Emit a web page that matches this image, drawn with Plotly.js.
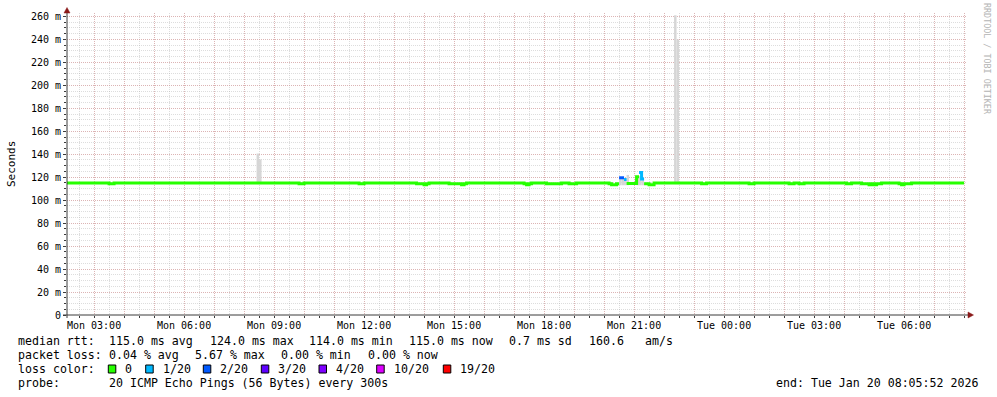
<!DOCTYPE html>
<html><head><meta charset="utf-8">
<script src="https://cdn.plot.ly/plotly-3.0.1.min.js"></script>
<style>html,body{margin:0;padding:0;background:#fff}#chart{width:997px;height:397px}</style>
</head><body><div id="chart"></div>
<script>
// ---- data ----
const rangeStart = '2026-01-19 02:05:52';
const rangeEnd   = '2026-01-20 08:05:52';
const medianEnd  = '2026-01-20 08:00';

// median rtt as runs: start time, value (ms), lost pings out of 20
const medianStart = [
 '2026-01-19 02:05:52','2026-01-19 03:30','2026-01-19 03:40','2026-01-19 09:50','2026-01-19 10:00',
 '2026-01-19 11:50','2026-01-19 12:00','2026-01-19 13:45','2026-01-19 14:00','2026-01-19 14:05',
 '2026-01-19 14:10','2026-01-19 14:50','2026-01-19 15:15','2026-01-19 15:20','2026-01-19 15:25',
 '2026-01-19 17:20','2026-01-19 17:25','2026-01-19 17:30','2026-01-19 17:35','2026-01-19 18:05',
 '2026-01-19 18:35','2026-01-19 18:50','2026-01-19 19:05','2026-01-19 20:10','2026-01-19 20:15',
 '2026-01-19 20:25','2026-01-19 20:30','2026-01-19 20:40','2026-01-19 20:45','2026-01-19 21:05',
 '2026-01-19 21:10','2026-01-19 21:15','2026-01-19 21:20','2026-01-19 21:30','2026-01-19 21:40',
 '2026-01-19 23:15','2026-01-19 23:25','2026-01-20 00:50','2026-01-20 01:00','2026-01-20 02:10',
 '2026-01-20 02:20','2026-01-20 02:30','2026-01-20 02:40','2026-01-20 04:05','2026-01-20 04:15',
 '2026-01-20 04:35','2026-01-20 04:50','2026-01-20 04:55','2026-01-20 05:00','2026-01-20 05:05',
 '2026-01-20 05:15','2026-01-20 05:50','2026-01-20 05:55','2026-01-20 06:00','2026-01-20 06:15'
];
const medianVal = [
 115,114.2,115,114.2,115,
 114.2,115,114.2,113.5,114.2,
 115,114.2,113.5,114.2,115,
 114.2,113.5,114.2,115,114.2,
 115,114.2,115,114.2,113.5,
 114.2,119.5,118,114.5,120.5,
 124,118.5,114.2,113.5,115,
 114.2,115,114.2,115,114.2,
 115,114.2,115,114.2,115,
 114.2,113.5,114.2,113.5,114.2,
 115,114.2,113.5,114.2,115
];
const medianLoss = [
 0,0,0,0,0, 0,0,0,0,0, 0,0,0,0,0, 0,0,0,0,0, 0,0,0,0,0,
 0,2,1,0,0, 1,1,0,0,0, 0,0,0,0,0, 0,0,0,0,0, 0,0,0,0,0, 0,0,0,0,0
];

// smoke (spread of the 20 pings) per 5-minute step: step end, low, high (ms)
const smokeEnd  = ['2026-01-19 08:30','2026-01-19 08:35','2026-01-19 20:35','2026-01-19 20:40',
                   '2026-01-19 20:45','2026-01-19 20:50','2026-01-19 21:10','2026-01-19 21:15',
                   '2026-01-19 21:20','2026-01-19 22:25','2026-01-19 22:30'];
const smokeLow  = [114,114,113,113,113,113,113,113,113,114,114];
const smokeHigh = [140.6,135.5,119,119,118.5,122,120,121,120,261,240];

// loss colour legend
const lossSteps  = [0,1,2,3,4,10,19];
const lossLabels = ['0','1/20','2/20','3/20','4/20','10/20','19/20'];
const lossColors = ['#26ff00','#00b8ff','#0059ff','#5e00ff','#7e00ff','#dd00ff','#ff0000'];

// axis ticks
const yTickVals   = [0,20,40,60,80,100,120,140,160,180,200,220,240,260];
const yTickLabels = ['0','20 m','40 m','60 m','80 m','100 m','120 m','140 m','160 m','180 m','200 m','220 m','240 m','260 m'];
const xTickTimes  = ['2026-01-19 03:00','2026-01-19 06:00','2026-01-19 09:00','2026-01-19 12:00','2026-01-19 15:00',
                     '2026-01-19 18:00','2026-01-19 21:00','2026-01-20 00:00','2026-01-20 03:00','2026-01-20 06:00'];
const xTickLabels = ['Mon 03:00','Mon 06:00','Mon 09:00','Mon 12:00','Mon 15:00',
                     'Mon 18:00','Mon 21:00','Tue 00:00','Tue 03:00','Tue 06:00'];

const statsRtt  = ['115.0 ms avg','124.0 ms max','114.0 ms min','115.0 ms now','0.7 ms sd','160.6','am/s'];
const statsLoss = ['0.04 % avg','5.67 % max','0.00 % min','0.00 % now'];
const probeText = '20 ICMP Echo Pings (56 Bytes) every 300s';
const endText   = 'end: Tue Jan 20 08:05:52 2026';

// ---- build ----
const W = 997, H = 397, L = 67, R = 30, T = 13, B = 82;
const PW = W - L - R, PH = H - T - B;
const px = x => (x - L) / PW;           // pixel -> paper x
const py = y => (H - B - y) / PH;       // pixel -> paper y
const toMs = s => new Date(s.replace(' ', 'T') + 'Z').getTime();
const fromMs = m => new Date(m).toISOString().replace('T',' ').replace('Z','');

function lossIndex(n){ let k = 0; for (let i=0;i<lossSteps.length;i++) if (n >= lossSteps[i]) k = i; return k; }

const traces = [];
traces.push({
  type:'bar', x: smokeEnd.map(s => fromMs(toMs(s) - 150000)),
  y: smokeHigh.map((h,i) => h - smokeLow[i]), base: smokeLow,
  width: smokeEnd.map(() => 300000),
  marker:{color:'#d6d6d6', line:{width:0}}, hoverinfo:'skip', showlegend:false
});
for (let c = 0; c < lossSteps.length; c++) {
  const xs = [], ys = [];
  let prevIn = false;
  for (let i = 0; i < medianStart.length; i++) {
    const inC = lossIndex(medianLoss[i]) === c;
    if (inC) {
      if (!prevIn && xs.length) { xs.push(medianStart[i]); ys.push(null); }
      const end = i + 1 < medianStart.length ? medianStart[i+1] : medianEnd;
      xs.push(medianStart[i], end); ys.push(medianVal[i], medianVal[i]);
    }
    prevIn = inC;
  }
  if (xs.length) traces.push({type:'scatter', mode:'lines', x:xs, y:ys,
    line:{color:lossColors[c], width:3}, hoverinfo:'skip', showlegend:false, connectgaps:false});
}

const hourVals = [], hourText = [];
for (let m = toMs('2026-01-19 03:00'); m <= toMs('2026-01-20 08:00'); m += 3600000) {
  const s = fromMs(m).slice(0,16);
  hourVals.push(s);
  const k = xTickTimes.indexOf(s);
  hourText.push(k >= 0 ? xTickLabels[k] : '');
}

const mono = 'DejaVu Sans Mono';
const ann = [];
const txt = (x, y, t, opt={}) => ann.push(Object.assign({xref:'paper', yref:'paper', x:px(x), y:py(y),
  text:t.replace(/ /g,'\u00a0'), showarrow:false, xanchor:'left', yanchor:'middle',
  font:{family:mono, size:11.6, color:'#000'}}, opt));

const y1 = 341, y2 = 355, y3 = 369, y4 = 383;
txt(16, y1, 'median rtt:');
[107.3,207.7,307.3,407.3,507.3,586.7,642.7].forEach((x,i) => txt(x, y1, statsRtt[i]));
txt(16, y2, 'packet loss:');
[107.3,192.7,279.3,366].forEach((x,i) => txt(x, y2, statsLoss[i]));
txt(16, y3, 'loss color:');
const boxX = [108.3,145.7,203.3,261.3,319,376.7,443.3];
const shapes = [];
boxX.forEach((x,i) => {
  shapes.push({type:'rect', xref:'paper', yref:'paper', x0:px(x), x1:px(x+7.5), y0:py(y3+4), y1:py(y3-4),
    fillcolor:lossColors[i], line:{color:'#000', width:1}});
  txt(x + 15, y3, lossLabels[i]);
});
txt(16, y4, 'probe:');
txt(107.3, y4, probeText);
txt(980.5, y4, endText, {xanchor:'right'});
ann.push({xref:'paper', yref:'paper', x:px(11), y:py(164), text:'Seconds', textangle:-90, showarrow:false,
  xanchor:'center', yanchor:'middle', font:{family:mono, size:11, color:'#000'}});
ann.push({xref:'paper', yref:'paper', x:px(987), y:py(59), text:'RRDTOOL / TOBI OETIKER', textangle:90, showarrow:false,
  xanchor:'center', yanchor:'middle', font:{family:mono, size:8.4, color:'#b4b4b4'}});

const axisCol = '#3a3a3a', arrowCol = '#8b1a1a';
shapes.push({type:'line', xref:'paper', yref:'paper', x0:px(67), x1:px(67), y0:py(318), y1:py(10), line:{color:axisCol, width:1}, layer:'above'});
shapes.push({type:'line', xref:'paper', yref:'paper', x0:px(63), x1:px(970), y0:py(315), y1:py(315), line:{color:axisCol, width:1}, layer:'above'});
shapes.push({type:'path', xref:'paper', yref:'paper', layer:'above',
  path:`M ${px(64)} ${py(13)} L ${px(70)} ${py(13)} L ${px(67)} ${py(7.5)} Z`, fillcolor:arrowCol, line:{color:arrowCol, width:0.5}});
shapes.push({type:'path', xref:'paper', yref:'paper', layer:'above',
  path:`M ${px(968)} ${py(312)} L ${px(968)} ${py(318)} L ${px(973.5)} ${py(315)} Z`, fillcolor:arrowCol, line:{color:arrowCol, width:0.5}});

const majorGrid = 'rgba(220,130,130,0.45)', minorGrid = 'rgba(175,175,175,0.42)';
const layout = {
  width: W, height: H, margin:{l:L, r:R, t:T, b:B, pad:0},
  paper_bgcolor:'#fff', plot_bgcolor:'#fff', showlegend:false, barmode:'overlay',
  xaxis:{type:'date', range:[rangeStart, rangeEnd], tickmode:'array', tickvals:hourVals, ticktext:hourText,
    showgrid:true, gridcolor:majorGrid, griddash:'1px,1px', gridwidth:1, zeroline:false, showline:false,
    ticks:'outside', ticklen:2, tickcolor:axisCol, tickfont:{family:mono, size:10, color:'#000'},
    ticklabelstandoff:-1,
    minor:{dtick:1800000, tick0:'2026-01-19 00:00', showgrid:true, gridcolor:minorGrid, griddash:'1px,1px',
      ticks:'outside', ticklen:2, tickcolor:axisCol}},
  yaxis:{range:[0,263], tickmode:'array', tickvals:yTickVals, ticktext:yTickLabels,
    showgrid:true, gridcolor:majorGrid, griddash:'1px,1px', gridwidth:1, zeroline:false, showline:false,
    ticks:'outside', ticklen:3, tickcolor:axisCol, tickfont:{family:mono, size:10, color:'#000'},
    minor:{dtick:5, tick0:0, showgrid:true, gridcolor:minorGrid, griddash:'1px,1px',
      ticks:'outside', ticklen:2, tickcolor:axisCol}},
  annotations: ann, shapes: shapes
};
Plotly.newPlot('chart', traces, layout, {staticPlot:true, displayModeBar:false});
</script></body></html>
